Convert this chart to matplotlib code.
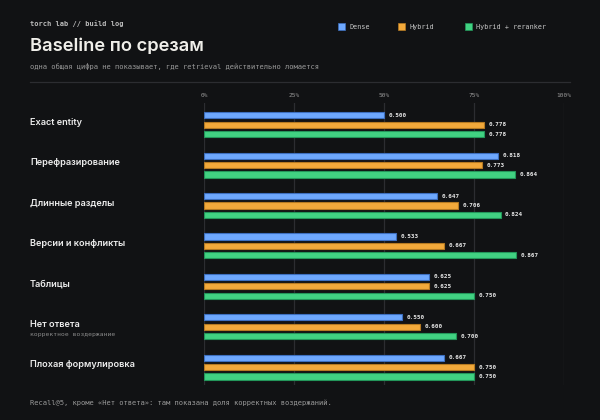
import numpy as np
import matplotlib.pyplot as plt
from matplotlib.transforms import blended_transform_factory
from matplotlib.patches import Rectangle

categories = ['Exact entity', 'Перефразирование', 'Длинные разделы',
              'Версии и конфликты', 'Таблицы', 'Нет ответа', 'Плохая формулировка']
sublabels = ['', '', '', '', '', 'корректное воздержание', '']
series_names = ['Dense', 'Hybrid', 'Hybrid + reranker']
dense = [0.500, 0.818, 0.647, 0.533, 0.625, 0.550, 0.667]
hybrid = [0.778, 0.773, 0.706, 0.667, 0.625, 0.600, 0.750]
rerank = [0.778, 0.864, 0.824, 0.867, 0.750, 0.700, 0.750]
ticks = [0, 0.25, 0.5, 0.75, 1.0]
tick_labels = ['0%', '25%', '50%', '75%', '100%']

BG = '#111214'
colors = ['#6ea8fe', '#f2a93b', '#41d282']
edges = ['#3d6fbf', '#b57a22', '#23965a']
MONO = 'DejaVu Sans Mono'
SANS = ['Inter', 'DejaVu Sans']

fig = plt.figure(figsize=(6, 4.2), dpi=100, facecolor=BG)
ax = fig.add_axes([204 / 600, 1 - 385 / 420, 360 / 600, 282 / 420])
ax.set_facecolor(BG)

y = np.arange(len(categories))
off = 0.2327
h = 0.156
for k, vals in enumerate([dense, hybrid, rerank]):
    yy = y + (k - 1) * off
    ax.barh(yy, vals, height=h, color=colors[k], edgecolor=edges[k], linewidth=0.8, zorder=3)
    for yi, v in zip(yy, vals):
        ax.text(v + 0.012, yi, f'{v:.3f}', color='#e6e6e6', fontsize=4.3, family=MONO,
                fontweight='bold', va='center', ha='left', zorder=4)

ax.set_xlim(0, 1)
ax.set_ylim(6.443, -0.537)
ax.set_xticks(ticks)
ax.set_xticklabels(tick_labels)
ax.set_yticks([])
ax.tick_params(axis='x', top=True, bottom=False, labeltop=True, labelbottom=False,
               length=0, pad=3.3, labelsize=4.4, labelcolor='#9a9a9a')
for lab in ax.get_xticklabels():
    lab.set_family(MONO)
ax.grid(axis='x', color='#2c2d31', linewidth=0.9, zorder=0)
for s in ax.spines.values():
    s.set_visible(False)

tr = blended_transform_factory(fig.transFigure, ax.transData)
for i, (c, sub) in enumerate(zip(categories, sublabels)):
    ax.text(30 / 600, i - 0.06, c, transform=tr, color='#ececec', fontsize=6.6,
            family=SANS, fontweight='semibold', va='center', ha='left')
    if sub:
        ax.text(30 / 600, i + 0.2, sub, transform=tr, color='#8a8a8a', fontsize=4.55,
                family=MONO, va='center', ha='left')

fig.text(30 / 600, 1 - 24 / 420, 'torch lab // build log', color='#bdbdbd', fontsize=5.0,
         family=MONO, fontweight='bold', va='center', ha='left')
fig.text(30 / 600, 1 - 46 / 420, 'Baseline по срезам', color='#f0efea', fontsize=13.2,
         family=SANS, fontweight='semibold', va='center', ha='left')
fig.text(30 / 600, 1 - 66.5 / 420, 'одна общая цифра не показывает, где retrieval действительно ломается',
         color='#9a9a9a', fontsize=5.1, family=MONO, va='center', ha='left')
fig.add_artist(plt.Line2D([30 / 600, 570 / 600], [1 - 82 / 420, 1 - 82 / 420],
                          color='#2c2d31', linewidth=0.9, transform=fig.transFigure))

leg_x = [337.5, 398, 465]
for lx, name, col, ec in zip(leg_x, series_names, colors, edges):
    fig.add_artist(Rectangle((lx / 600, 1 - 30 / 420), 7 / 600, 7 / 420, facecolor=col,
                             edgecolor=ec, linewidth=0.5, transform=fig.transFigure))
    fig.text((lx + 11.5) / 600, 1 - 26.6 / 420, name, color='#c8c8c8', fontsize=4.85,
             family=MONO, va='center', ha='left')

fig.text(30 / 600, 1 - 402.5 / 420, 'Recall@5, кроме «Нет ответа»: там показана доля корректных воздержаний.',
         color='#9a9a9a', fontsize=5.1, family=MONO, va='center', ha='left')

fig.savefig('out.png', dpi=100, facecolor=BG)
